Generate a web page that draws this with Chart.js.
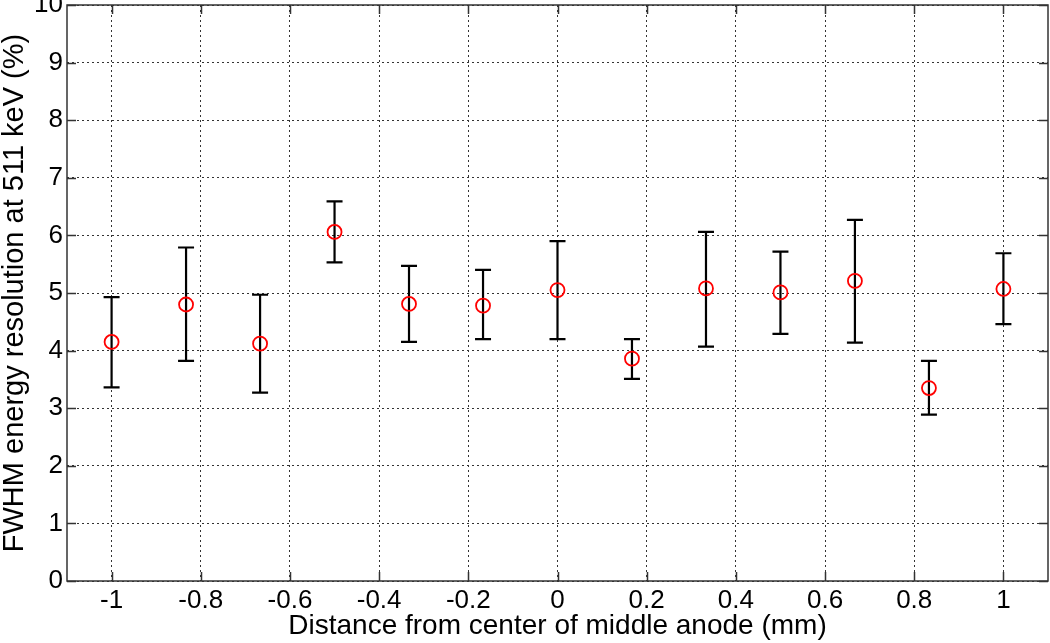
<!DOCTYPE html>
<html>
<head>
<meta charset="utf-8">
<script src="https://cdn.jsdelivr.net/npm/chart.js@4.4.1/dist/chart.umd.min.js"></script>
<style>
  html, body { margin: 0; padding: 0; background: #fff; }
  #wrap { width: 1050px; height: 643px; }
</style>
</head>
<body>
<div id="wrap"><canvas id="myChart" width="1050" height="643"></canvas></div>
<script>
// positions along the anode (mm)
const positions = [-1, -0.833, -0.667, -0.5, -0.333, -0.167, 0, 0.167, 0.333, 0.5, 0.667, 0.833, 1];
// FWHM at 511 keV (%) and the ends of the error bars
const resolution = [4.15, 4.80, 4.12, 6.06, 4.81, 4.78, 5.05, 3.86, 5.08, 5.01, 5.21, 3.35, 5.07];
const upper = [4.93, 5.79, 4.97, 6.59, 5.47, 5.40, 5.90, 4.20, 6.06, 5.72, 6.27, 3.82, 5.69];
const lower = [3.36, 3.82, 3.27, 5.53, 4.15, 4.20, 4.20, 3.51, 4.07, 4.29, 4.14, 2.89, 4.46];

const xTicks = [-1, -0.8, -0.6, -0.4, -0.2, 0, 0.2, 0.4, 0.6, 0.8, 1];
const yTicks = [0, 1, 2, 3, 4, 5, 6, 7, 8, 9, 10];

const FONT = "'Liberation Sans', Arial, sans-serif";

// error bars + box + inward tick marks, like matlab
const errorBars = {
  id: "errorBars",
  beforeDatasetsDraw(chart) {
    const { ctx, scales: { x, y } } = chart;
    ctx.save();
    ctx.strokeStyle = "#000";
    ctx.lineWidth = 2.2;
    const cap = 8;
    positions.forEach((p, i) => {
      const px = x.getPixelForValue(p);
      const top = y.getPixelForValue(upper[i]);
      const bot = y.getPixelForValue(lower[i]);
      ctx.beginPath();
      ctx.moveTo(px, top);
      ctx.lineTo(px, bot);
      ctx.moveTo(px - cap, top);
      ctx.lineTo(px + cap, top);
      ctx.moveTo(px - cap, bot);
      ctx.lineTo(px + cap, bot);
      ctx.stroke();
    });
    ctx.restore();
  },
  afterDraw(chart) {
    const { ctx, chartArea: a, scales: { x, y } } = chart;
    ctx.save();
    ctx.strokeStyle = "#333";
    ctx.lineWidth = 1.5;
    ctx.strokeRect(a.left, a.top, a.right - a.left, a.bottom - a.top);
    const len = 9;
    ctx.beginPath();
    xTicks.forEach(v => {
      const px = Math.round(x.getPixelForValue(v)) + 0.5;
      ctx.moveTo(px, a.bottom);
      ctx.lineTo(px, a.bottom - len);
      ctx.moveTo(px, a.top);
      ctx.lineTo(px, a.top + len);
    });
    yTicks.forEach(v => {
      const py = Math.round(y.getPixelForValue(v)) + 0.5;
      ctx.moveTo(a.left, py);
      ctx.lineTo(a.left + len, py);
      ctx.moveTo(a.right, py);
      ctx.lineTo(a.right - len, py);
    });
    ctx.stroke();
    ctx.restore();
  },
};

new Chart(document.getElementById("myChart"), {
  type: "scatter",
  data: {
    datasets: [
      {
        label: "FWHM",
        data: positions.map((p, i) => ({ x: p, y: resolution[i] })),
        pointStyle: "circle",
        pointRadius: 7,
        pointHoverRadius: 7,
        borderColor: "#ff0000",
        backgroundColor: "rgba(0,0,0,0)",
        borderWidth: 1.8,
        showLine: false,
      },
    ],
  },
  options: {
    responsive: false,
    animation: false,
    layout: { autoPadding: false, padding: { top: 5, right: 2, left: 0, bottom: 0 } },
    plugins: {
      legend: { display: false },
      tooltip: { enabled: false },
    },
    scales: {
      x: {
        type: "linear",
        min: -1.1,
        max: 1.1,
        afterBuildTicks: s => { s.ticks = xTicks.map(v => ({ value: v })); },
        afterFit: s => { s.height = 62; s.paddingLeft = 0; s.paddingRight = 0; },
        grid: { color: "#333", lineWidth: 1, drawTicks: false },
        border: { display: false, dash: [2, 3] },
        ticks: {
          color: "#000",
          padding: 4,
          maxRotation: 0,
          font: { family: FONT, size: 26 },
          callback: v => String(Number(v.toFixed(1))),
        },
        title: {
          display: true,
          text: "Distance from center of middle anode (mm)",
          color: "#000",
          font: { family: FONT, size: 28 },
          padding: { top: 0, bottom: 0 },
        },
      },
      y: {
        type: "linear",
        min: 0,
        max: 10,
        afterBuildTicks: s => { s.ticks = yTicks.map(v => ({ value: v })); },
        afterFit: s => { s.width = 67; s.paddingTop = 0; s.paddingBottom = 0; },
        grid: { color: "#333", lineWidth: 1, drawTicks: false },
        border: { display: false, dash: [2, 3] },
        ticks: {
          color: "#000",
          padding: 4,
          font: { family: FONT, size: 26 },
        },
        title: {
          display: true,
          text: "FWHM energy resolution at 511 keV (%)",
          color: "#000",
          font: { family: FONT, size: 29, lineHeight: 1 },
          padding: { top: 0, bottom: 0 },
        },
      },
    },
  },
  plugins: [errorBars],
});
</script>
</body>
</html>
